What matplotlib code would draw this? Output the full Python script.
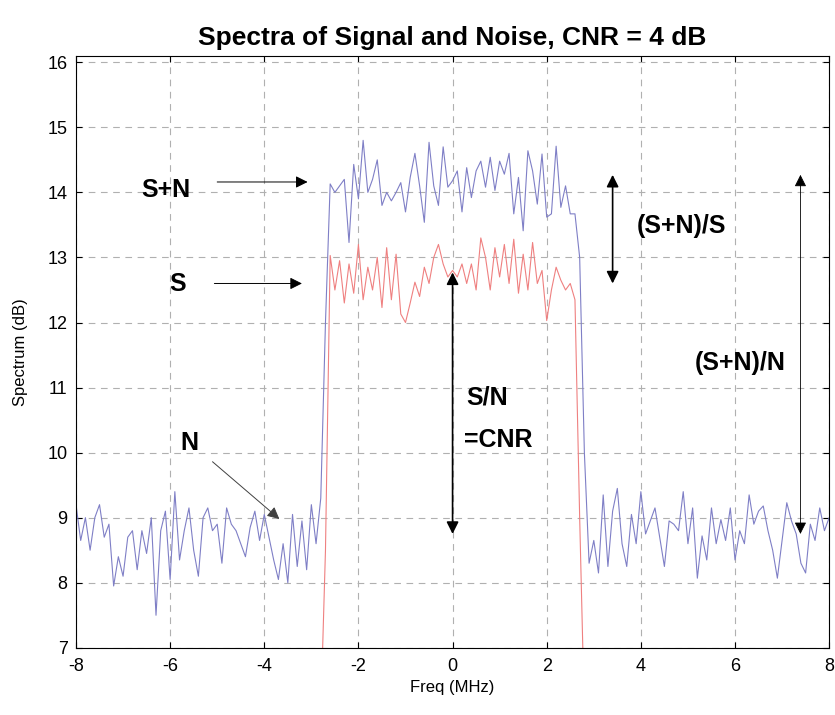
import matplotlib
matplotlib.use("Agg")
import matplotlib.pyplot as plt
import numpy as np

plt.rcParams['font.family'] = ['Liberation Sans', 'DejaVu Sans']
plt.rcParams['axes.unicode_minus'] = False

# frequency grid (MHz) for the S+N trace and the S trace
freq_sn = np.round(np.arange(-8.0, 8.001, 0.1), 1)
freq_s = np.round(np.arange(-2.8, 2.801, 0.1), 1)

# S+N spectrum (dB)
noise_left = [9.2, 8.65, 9.0, 8.5, 9.0, 9.2, 8.7, 8.9, 7.95, 8.4,
              8.1, 8.7, 8.8, 8.2, 8.8, 8.45, 9.0, 7.5, 8.8, 9.1,
              8.05, 9.4, 8.35, 8.8, 9.15, 8.5, 8.1, 9.0, 9.15, 8.8,
              8.9, 8.3, 9.15, 8.9, 8.8, 8.6, 8.4, 8.85, 9.1, 8.65,
              9.05, 8.7, 8.35, 8.05, 8.6, 8.0, 9.05, 8.25, 8.95, 8.2,
              9.2, 8.6, 9.3]
band_sn = [12.0,
           14.13, 14.0, 14.1, 14.2, 13.23, 14.43, 13.9, 14.8, 14.0, 14.2,
           14.5, 13.8, 14.0, 13.87, 14.0, 14.15, 13.7, 14.23, 14.6, 14.1,
           13.54, 14.77, 14.1, 13.8, 14.7, 14.08, 14.18, 14.33, 13.7, 14.38,
           13.92, 14.33, 14.48, 14.08, 14.54, 14.03, 14.48, 14.28, 14.6, 13.67,
           14.23, 13.41, 14.64, 14.33, 13.82, 14.59, 13.62, 13.67, 14.71, 13.77,
           14.1, 13.67, 13.67,
           13.0, 10.0]
noise_right = [8.3, 8.65, 8.15, 9.35, 8.25, 9.1, 9.45, 8.6, 8.25, 9.05,
               8.6, 9.4, 8.75, 8.95, 9.15, 8.7, 8.25, 8.95, 8.9, 8.8,
               9.4, 8.6, 9.15, 8.07, 8.72, 8.35, 9.15, 8.6, 8.97, 8.65,
               9.15, 8.35, 8.8, 8.6, 9.35, 8.9, 9.1, 9.18, 8.8, 8.5,
               8.07, 8.65, 9.23, 8.95, 8.75, 8.3, 8.15, 8.9, 8.65, 9.15,
               8.8, 9.0]
spec_sn = np.array(noise_left + band_sn + noise_right)

# S spectrum (dB)
spec_s = np.array([6.0, 8.5,
                   13.03, 12.5, 12.95, 12.3, 12.9, 12.45, 13.2, 12.35, 12.85, 12.5,
                   13.0, 12.23, 13.15, 12.35, 13.05, 12.13, 12.0, 12.3, 12.62, 12.4,
                   12.85, 12.6, 13.0, 13.2, 12.9, 12.7,
                   12.8, 12.7, 12.9, 12.6, 12.9, 12.5, 13.3, 13.0, 12.5, 13.15,
                   12.7, 13.2, 12.6, 13.28, 12.45, 13.05, 12.5, 13.23, 12.6, 12.8,
                   12.03, 12.5, 12.85, 12.65, 12.5, 12.6, 12.35,
                   9.0, 6.0])

fig = plt.figure(figsize=(8.35, 7.15), dpi=100)
ax = fig.add_axes([0.091, 0.094, 0.902, 0.828])

ax.plot(freq_sn, spec_sn, color="#7f7fc6", lw=0.8)
ax.plot(freq_s, spec_s, color="#ef8080", lw=0.8)

ax.set_xlim(-8, 8)
ax.set_ylim(7, 16.1)
ax.set_xticks(np.arange(-8, 9, 2))
ax.set_yticks(np.arange(7, 17, 1))
ax.tick_params(labelsize=13, top=True, right=True, direction='in', length=4)
ax.tick_params(axis='x', pad=7)
ax.tick_params(axis='y', pad=6)
ax.grid(True, ls=(0, (6, 5)), color="#b0b0b0", lw=0.8)

ax.set_title("Spectra of Signal and Noise, CNR = 4 dB", fontsize=19,
             weight='bold', pad=8)
ax.set_xlabel("Freq (MHz)", fontsize=12)
ax.set_ylabel("Spectrum (dB)", fontsize=12, labelpad=14)

# labels with arrows
head = dict(arrowstyle='-|>', color='black', lw=0.7, mutation_scale=18,
            shrinkA=0, shrinkB=0)
twohead = dict(arrowstyle='<|-|>', color='black', lw=1.2, mutation_scale=18,
               shrinkA=0, shrinkB=0)
lab = dict(fontsize=18, weight='bold', va='center')

ax.text(-6.1, 14.04, "S+N", ha='center', **lab)
ax.annotate("", xy=(-3.08, 14.16), xytext=(-5.0, 14.16), arrowprops=head)

ax.text(-5.84, 12.59, "S", ha='center', **lab)
ax.annotate("", xy=(-3.2, 12.6), xytext=(-5.06, 12.6), arrowprops=head)

ax.text(-5.6, 10.15, "N", ha='center', **lab)
ax.annotate("", xy=(-3.68, 8.98), xytext=(-5.1, 9.86),
            arrowprops=dict(head, color='#404040'))

ax.annotate("", xy=(0.0, 12.77), xytext=(0.0, 8.75), arrowprops=twohead)
ax.text(0.3, 10.85, "S/N", ha='left', **lab)
ax.text(0.25, 10.2, "=CNR", ha='left', **lab)

ax.annotate("", xy=(3.4, 14.27), xytext=(3.4, 12.6), arrowprops=twohead)
ax.text(4.86, 13.48, "(S+N)/S", ha='center', **lab)

ax.annotate("", xy=(7.39, 14.27), xytext=(7.39, 8.75),
            arrowprops=dict(twohead, lw=0.6))
ax.text(6.1, 11.38, "(S+N)/N", ha='center', **lab)

fig.savefig("out.png", dpi=100)
